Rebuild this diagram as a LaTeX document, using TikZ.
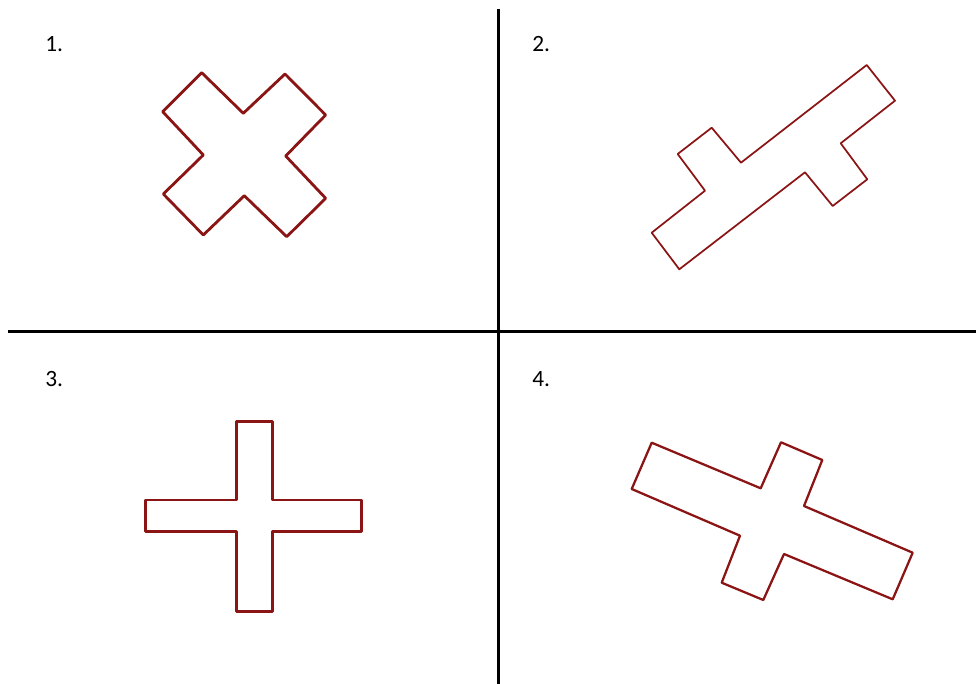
\documentclass[tikz,border=0pt]{standalone}
\usepackage{fontspec}
\setmainfont{Carlito}
\definecolor{shapered}{HTML}{8B1414}
\definecolor{axiscolor}{HTML}{000000}

\begin{document}
\begin{tikzpicture}[
    x=0.75pt, y=-0.75pt,
    every node/.style={font=\fontsize{17.5}{19}\selectfont, inner sep=0pt},
    num/.style={anchor=base west},
    divider/.style={axiscolor, line width=2.6pt},
    outline/.style={shapered, line width=2.1pt, line join=round},
    thin outline/.style={shapered, line width=1.3pt, line join=round},
]
\useasboundingbox (0,0) rectangle (976,684);

% the two dividing lines
\draw[divider] (498.5, 9) -- (498.5, 684);
\draw[divider] (8, 331.5) -- (976, 331.5);

% panel numbers
\node[num] (n1) at (45, 51.7) {1.};
\node[num] (n2) at (532, 51.7) {2.};
\node[num] (n3) at (45, 386.7) {3.};
\node[num] (n4) at (532, 386.7) {4.};

% 1. the cross turned by 45 degrees
\draw[outline]
    (201.7, 72.7) -- (243.3, 113.3) -- (285, 74) -- (325.7, 115)
    -- (285.7, 156) -- (325.7, 198.3) -- (286.7, 236.7) -- (244.3, 195.7)
    -- (203.3, 235) -- (163.3, 194) -- (203.3, 155) -- (162.7, 111.7)
    -- cycle;

% 2. the long bar tilted upwards
\draw[thin outline]
    (866.7, 65) -- (895, 100.7) -- (840.7, 143.3) -- (867.3, 179.3)
    -- (832.7, 206) -- (805, 172.3) -- (679.3, 269.3) -- (651.7, 232.7)
    -- (705, 190.7) -- (677.7, 154) -- (711.7, 127.7) -- (741, 162.7)
    -- cycle;

% 3. the upright plus
\draw[outline]
    (236.7, 421.7) -- (272.7, 421.7) -- (272.7, 500) -- (361.7, 500)
    -- (361.7, 531.7) -- (272.7, 531.7) -- (272.7, 611.7) -- (236.7, 611.7)
    -- (236.7, 531.7) -- (145.7, 531.7) -- (145.7, 500) -- (236.7, 500)
    -- cycle;

% 4. the long bar tilted downwards
\draw[thin outline, line width=1.7pt]
    (651.7, 442.7) -- (760.7, 488.3) -- (781, 442.3) -- (822.3, 460)
    -- (804, 506) -- (912.7, 552.7) -- (892.7, 599.3) -- (784, 554)
    -- (763.3, 600) -- (721.7, 582.7) -- (740, 535.7) -- (631.7, 489)
    -- cycle;
\end{tikzpicture}
\end{document}
